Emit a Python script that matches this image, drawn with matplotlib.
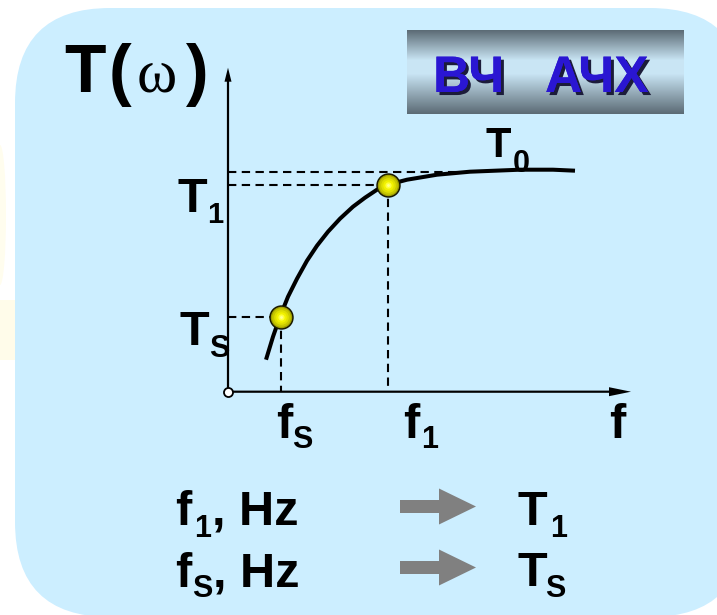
import matplotlib
matplotlib.use('Agg')
import matplotlib.pyplot as plt
import matplotlib.patheffects as pe
import numpy as np
from matplotlib.patches import FancyBboxPatch, FancyArrow, Ellipse, Rectangle

# ---- data (frequency response curve; arbitrary units) ----
f_curve = [38, 45, 52, 60, 69, 79, 89, 100, 112, 125, 137, 149, 160, 179, 209, 242, 292, 325, 347]
T_curve = [32, 55, 75, 95, 113, 131, 146, 160, 173, 185, 194, 202, 207, 212, 217, 220, 222, 222, 221]
T0 = 220
T1 = 207
TS = 75
f1 = 160
fS = 53
f_T0_end = 232
f_axis_max = 403
T_axis_max = 324

W, H = 717, 615
OX, OY = 228, 391.7


def P(x, y):
    return (x - OX, OY - y)


LBL = ['Liberation Sans Narrow', 'Liberation Sans', 'DejaVu Sans']
BOX = ['Liberation Sans', 'DejaVu Sans']

fig = plt.figure(figsize=(7.17, 6.15), dpi=100)
fig.patch.set_facecolor('white')
ax = fig.add_axes([0, 0, 1, 1])
ax.axis('off')

# faint yellow background remnants
ax.add_patch(Ellipse(P(0, 215), 12, 140, facecolor='#fffdee', edgecolor='none', zorder=0))
ax.add_patch(Rectangle(P(0, 360), 16, 60, facecolor='#fffcea', edgecolor='none', zorder=0))

# light blue rounded panel
x0, y0 = P(15, 617)
ax.add_patch(FancyBboxPatch((x0, y0), 730, 609, boxstyle='round,pad=0,rounding_size=95',
                            facecolor='#cceeff', edgecolor='none', zorder=1))

# gradient title box
stops_t = [0.0, 0.36, 0.52, 1.0]
stops_c = np.array([[0.36, 0.42, 0.46], [0.79, 0.90, 0.96], [0.79, 0.90, 0.96], [0.36, 0.42, 0.46]])
tt = np.linspace(0, 1, 120)
grad = np.stack([np.interp(tt, stops_t, stops_c[:, k]) for k in range(3)], axis=-1)[:, None, :]
bx0, by1 = P(407, 30)
bx1, by0 = P(684, 114)
ax.imshow(grad, extent=[bx0, bx1, by0, by1], aspect='auto', zorder=2, interpolation='bilinear')
shadow = [pe.withSimplePatchShadow(offset=(2.2, -2.2), shadow_rgbFace='#1c1c3a', alpha=1.0), pe.Normal()]
for (s, x) in [('ВЧ', 433), ('АЧХ', 545)]:
    ax.text(*P(x, 92), s, fontsize=37, fontweight='bold', family=BOX, color='#2a16d2',
            ha='left', va='baseline', zorder=4, path_effects=shadow)

# axes arrows
ax.add_patch(FancyArrow(0, 0, 0, T_axis_max, width=2.2, head_width=7, head_length=14,
                        length_includes_head=True, color='black', lw=0, zorder=5))
ax.add_patch(FancyArrow(0, 0, f_axis_max, 0, width=2.2, head_width=9, head_length=22,
                        length_includes_head=True, color='black', lw=0, zorder=5))
ax.plot([0], [0], 'o', ms=6.5, mfc='white', mec='black', mew=1.3, zorder=8)

# dashed guides
dash = dict(color='black', lw=1.5, dashes=(4, 2.6), zorder=4)
ax.plot([0, f_T0_end], [T0, T0], **dash)
ax.plot([0, f1], [T1, T1], **dash)
ax.plot([f1, f1], [T1, 0], **dash)
ax.plot([0, fS], [TS, TS], **dash)
ax.plot([fS, fS], [TS, 0], **dash)

# curve
ax.plot(f_curve, T_curve, color='black', lw=2.9, solid_capstyle='butt', solid_joinstyle='round', zorder=5)

# points
for f, T in zip([fS, f1], [TS, T1]):
    ax.plot(f, T, 'o', ms=16.5, mfc='#a4a400', mec='#1a1a00', mew=1.1, zorder=6)
    for ms, c in [(13.5, '#c8c800'), (10.5, '#e0e000'), (7.5, '#f2f200'), (4.5, '#ffff40'), (2.0, '#ffff90')]:
        ax.plot(f, T, 'o', ms=ms, mfc=c, mec='none', zorder=7)


def txt(x, y, s, size, family=LBL, weight='bold', **kw):
    ax.text(*P(x, y), s, fontsize=size, fontweight=weight, family=family,
            ha='left', va='baseline', color='black', zorder=9, **kw)


# T(omega)
txt(64, 92, 'T', 49)
txt(109, 93, '(', 49)
txt(137, 92, 'ω', 44, family=['Liberation Serif', 'DejaVu Serif'], weight='normal')
txt(186, 93, ')', 49)

# axis labels
txt(177, 212, 'T', 35)
txt(207, 223, '1', 21)
txt(179, 345, 'T', 35)
txt(209, 357, 'S', 22)
txt(486, 157, 'T', 30)
txt(513, 172, '0', 22)

txt(276, 438, 'f', 35)
txt(292, 448, 'S', 22)
txt(403, 438, 'f', 35)
txt(421, 448, '1', 22)
txt(609, 438, 'f', 35)

# bottom legend
txt(175, 525, 'f', 35)
txt(194, 537, '1', 22)
txt(212, 525, ', Hz', 35)
txt(175, 587, 'f', 35)
txt(192, 597, 'S', 22)
txt(213, 587, ', Hz', 35)
txt(517, 525, 'T', 35)
txt(550, 537, '1', 22)
txt(517, 586, 'T', 35)
txt(545, 597, 'S', 22)

for yc in [506.5, 567.5]:
    ax.add_patch(FancyArrow(*P(400, yc), 76, 0, width=13, head_width=36, head_length=37,
                            length_includes_head=True, color='#808080', lw=0, zorder=5))

ax.set_xlim(-OX, W - OX)
ax.set_ylim(OY - H, OY)
fig.savefig('out.png', dpi=100, facecolor='white')
